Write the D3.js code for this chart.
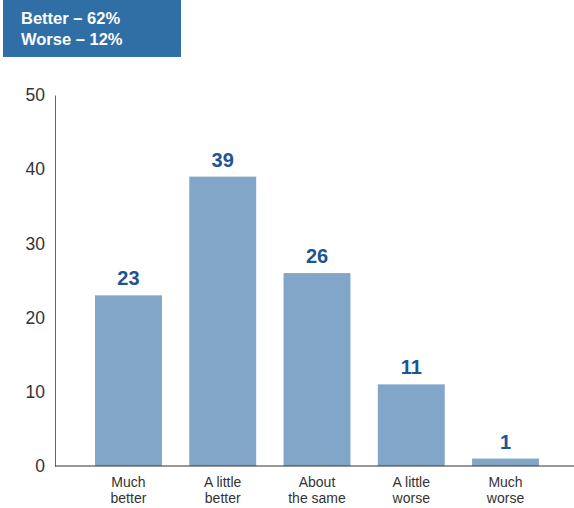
<!DOCTYPE html>
<html>
<head>
<meta charset="utf-8">
<script src="https://cdn.jsdelivr.net/npm/d3@7"></script>
<style>
  html, body { margin: 0; padding: 0; background: #fff; }
  svg { display: block; font-family: "Liberation Sans", Arial, Helvetica, sans-serif; }
</style>
</head>
<body>
<svg id="chart" width="574" height="508"></svg>
<script>
// Survey responses (percent)
const categories = [["Much", "better"], ["A little", "better"], ["About", "the same"], ["A little", "worse"], ["Much", "worse"]];
const values = [23, 39, 26, 11, 1];
const yTicks = [0, 10, 20, 30, 40, 50];
const summaryLines = ["Better – 62%", "Worse – 12%"];

const svg = d3.select("#chart");

const x = d3.scaleBand()
  .domain(d3.range(categories.length))
  .range([95, 539])
  .paddingInner(0.29)
  .paddingOuter(0);

const y = d3.scaleLinear().domain([0, 50]).range([466, 95]);

// Summary box
svg.append("rect")
  .attr("x", 3).attr("y", 0)
  .attr("width", 178).attr("height", 57)
  .attr("fill", "#306ea6");
svg.append("g").selectAll("text")
  .data(summaryLines)
  .join("text")
  .attr("x", 21)
  .attr("y", (d, i) => 24 + i * 21)
  .attr("fill", "#fff")
  .attr("font-size", 16.5)
  .attr("font-weight", "bold")
  .text(d => d);

// Y axis
const yAxis = d3.axisLeft(y).tickValues(yTicks).tickSize(0).tickPadding(10);
const gy = svg.append("g").attr("transform", "translate(55,0)").call(yAxis);
gy.select(".domain").attr("stroke", "#666").attr("stroke-width", 1);
gy.selectAll(".tick text")
  .attr("fill", "#333")
  .attr("font-size", 17.5)
  .attr("font-family", "'Liberation Sans', Arial, sans-serif");

// Bars
svg.append("g").selectAll("rect")
  .data(values)
  .join("rect")
  .attr("x", (d, i) => x(i))
  .attr("y", d => y(d))
  .attr("width", x.bandwidth())
  .attr("height", d => y(0) - y(d))
  .attr("fill", "#82a6c8");

// Baseline
svg.append("line")
  .attr("x1", 55).attr("x2", 574)
  .attr("y1", y(0)).attr("y2", y(0))
  .attr("stroke", "#333").attr("stroke-width", 1.2);

// Value labels
svg.append("g").selectAll("text")
  .data(values)
  .join("text")
  .attr("x", (d, i) => x(i) + x.bandwidth() / 2)
  .attr("y", d => y(d) - 10)
  .attr("text-anchor", "middle")
  .attr("fill", "#1d5494")
  .attr("font-size", 20)
  .attr("font-weight", "bold")
  .text(d => d);

// Category labels
const cat = svg.append("g").selectAll("text")
  .data(categories)
  .join("text")
  .attr("text-anchor", "middle")
  .attr("fill", "#333")
  .attr("font-size", 14);
cat.each(function (d, i) {
  const t = d3.select(this);
  d.forEach((line, j) => {
    t.append("tspan")
      .attr("x", x(i) + x.bandwidth() / 2)
      .attr("y", 487 + j * 16)
      .text(line);
  });
});
</script>
</body>
</html>
